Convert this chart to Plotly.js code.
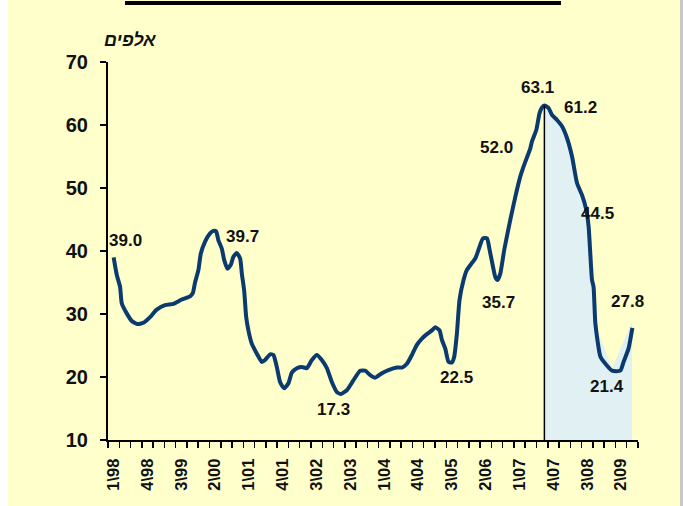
<!DOCTYPE html>
<html>
<head>
<meta charset="utf-8">
<script src="https://cdn.plot.ly/plotly-3.0.1.min.js"></script>
<style>html,body{margin:0;padding:0;background:#fff;}#chart{width:683px;height:506px;}</style>
</head>
<body>
<div id="chart"></div>
<script>
// Quarter index: 0 = 1998 Q1 (fractional positions inside a quarter)
const seriesQ = [0.00,0.28,0.57,0.72,1.16,1.61,2.10,2.64,3.23,3.82,4.56,5.30,6.04,6.78,7.02,7.22,7.52,7.73,8.11,8.55,8.85,9.09,9.29,9.59,9.80,10.09,10.39,10.62,10.92,11.22,11.37,11.57,11.75,11.95,12.25,12.70,13.14,13.43,13.88,14.17,14.47,14.76,15.12,15.50,15.80,16.25,16.69,17.13,17.58,18.02,18.46,18.91,19.35,19.80,20.15,20.68,21.27,21.86,22.31,22.75,23.19,23.79,24.37,25.12,25.56,26.01,26.45,26.89,27.34,27.78,28.23,28.52,28.90,29.11,29.41,29.70,30.00,30.20,30.44,30.67,31.03,31.33,31.77,32.07,32.36,32.75,33.11,33.34,33.64,33.84,34.05,34.29,34.64,35.17,35.62,36.06,36.35,36.95,37.10,37.48,37.77,37.99,38.20,38.57,38.87,39.32,39.76,40.21,40.65,41.09,41.53,41.92,42.12,42.27,42.42,42.56,42.72,43.17,43.70,44.20,44.93,45.22,45.66,46.00];
const seriesValues = [39.0,36.2,34.3,31.7,30.1,28.9,28.4,28.6,29.5,30.7,31.4,31.6,32.3,32.8,33.3,35.0,37.0,39.6,41.5,42.8,43.2,43.1,41.7,40.4,38.6,37.2,37.8,39.1,39.7,38.8,36.4,33.8,29.6,27.4,25.3,23.7,22.4,22.7,23.6,23.5,21.6,19.2,18.2,19.0,20.7,21.4,21.6,21.4,22.7,23.5,22.7,21.4,19.2,17.6,17.3,17.9,19.5,21.0,21.0,20.3,19.9,20.6,21.1,21.5,21.5,22.1,23.5,25.1,26.1,26.8,27.4,27.9,27.4,25.9,24.5,22.4,22.3,23.2,26.9,32.2,35.4,37.0,38.1,38.8,40.2,42.0,42.0,40.2,37.5,35.9,35.4,36.4,40.2,44.9,48.6,51.8,53.4,56.3,57.4,59.2,61.9,62.8,63.1,62.7,61.6,60.8,59.8,57.9,55.0,50.8,48.9,46.5,43.9,39.6,35.4,34.3,28.5,23.2,21.9,21.0,21.0,22.4,24.5,27.8];

// Shaded period (from the 2007 peak onwards)
const shadeQ = [38.20,38.87,39.76,40.65,41.53,42.12,42.45,42.72,44.22,45.97];
const shadeValues = [63.1,61.6,59.8,55.0,48.9,43.9,35.4,28.2,21.4,28.8];

// Tick labels (every third quarter)
const tickLabels = ['1\\98','4\\98','3\\99','2\\00','1\\01','4\\01','3\\02','2\\03','1\\04','4\\04','3\\05','2\\06','1\\07','4\\07','3\\08','2\\09'];
const yTicks = [10,20,30,40,50,60,70];

// Callout values
const calloutValues = [39.0,39.7,17.3,22.5,35.7,52.0,63.1,61.2,44.5,27.8,21.4];
const unitLabel = 'אלפים';

const calloutPos = [[1.06,41.6],[11.39,42.3],[19.53,14.8],[30.36,19.9],[34.11,31.9],[33.93,56.4],[37.6,66.0],[41.36,62.85],[42.87,46.0],[45.55,32.05],[43.75,18.5]];

const tickVals = tickLabels.map((_, i) => i * 3);
const nQ = 47;
const minorVals = [];
for (let i = 0; i <= nQ; i++) minorVals.push(i - 0.5);

let peakIdx = 0;
seriesValues.forEach((v, i) => { if (v > seriesValues[peakIdx]) peakIdx = i; });

const traces = [
  {x: shadeQ, y: shadeValues, type: 'scatter', mode: 'lines', fill: 'tozeroy',
   fillcolor: '#E1F1F3', line: {width: 0, color: 'rgba(0,0,0,0)'}, hoverinfo: 'skip'},
  {x: seriesQ, y: seriesValues, type: 'scatter', mode: 'lines',
   line: {color: '#0B3A6E', width: 4, shape: 'spline', smoothing: 0.5}}
];

const annotations = calloutValues.map((v, i) => ({
  x: calloutPos[i][0], y: calloutPos[i][1], xref: 'x', yref: 'y',
  text: '<b>' + v.toFixed(1) + '</b>', showarrow: false,
  font: {family: 'Liberation Sans, Arial, sans-serif', size: 17, color: '#111'}
}));
annotations.push({
  x: (130 - 108) / 530, y: (440 - 40) / 378, xref: 'paper', yref: 'paper',
  xanchor: 'center', yanchor: 'middle',
  text: '<b><i>' + unitLabel + '</i></b>', showarrow: false,
  font: {family: 'Liberation Sans, Arial, sans-serif', size: 18, color: '#111'}
});

const layout = {
  width: 683, height: 506,
  margin: {l: 108, r: 45, t: 62, b: 66},
  paper_bgcolor: '#FFFFFF', plot_bgcolor: 'rgba(0,0,0,0)',
  showlegend: false,
  xaxis: {
    range: [-0.5, 46.5], showgrid: false, zeroline: false,
    showline: true, linecolor: '#000', linewidth: 2,
    tickvals: tickVals, ticktext: tickLabels, ticks: '', tickangle: -90,
    ticklabelstandoff: 10,
    tickfont: {family: 'Liberation Sans, Arial, sans-serif', size: 16.5, color: '#111', weight: 'bold'},
    minor: {tickvals: minorVals, ticks: 'outside', ticklen: 6, tickwidth: 1.5, tickcolor: '#000', showgrid: false}
  },
  yaxis: {
    range: [10, 70], tickvals: yTicks, showgrid: false, zeroline: false,
    showline: true, linecolor: '#000', linewidth: 2,
    ticks: 'outside', ticklen: 6, tickwidth: 1.5, tickcolor: '#000',
    ticklabelstandoff: 8,
    tickfont: {family: 'Liberation Sans, Arial, sans-serif', size: 20, color: '#111', weight: 'bold'}
  },
  shapes: [
    {type: 'rect', xref: 'paper', yref: 'paper', layer: 'below',
     x0: (8 - 108) / 530, x1: (680 - 108) / 530, y0: (440 - 506) / 378, y1: (440 - 0) / 378,
     fillcolor: '#FFFFCC', line: {width: 0}},
    {type: 'rect', xref: 'paper', yref: 'paper', layer: 'below',
     x0: (680 - 108) / 530, x1: (683 - 108) / 530, y0: (440 - 506) / 378, y1: (440 - 0) / 378,
     fillcolor: '#C8C8C8', line: {width: 0}},
    {type: 'rect', xref: 'paper', yref: 'paper',
     x0: (125 - 108) / 530, x1: (561 - 108) / 530, y0: (440 - 5) / 378, y1: (440 - 1) / 378,
     fillcolor: '#000', line: {width: 0}},
    {type: 'line', xref: 'x', yref: 'y',
     x0: seriesQ[peakIdx], x1: seriesQ[peakIdx], y0: 10, y1: seriesValues[peakIdx],
     line: {color: '#000', width: 1.5}}
  ],
  annotations: annotations,
  hovermode: false
};

Plotly.newPlot('chart', traces, layout, {displayModeBar: false, staticPlot: true});
</script>
</body>
</html>
